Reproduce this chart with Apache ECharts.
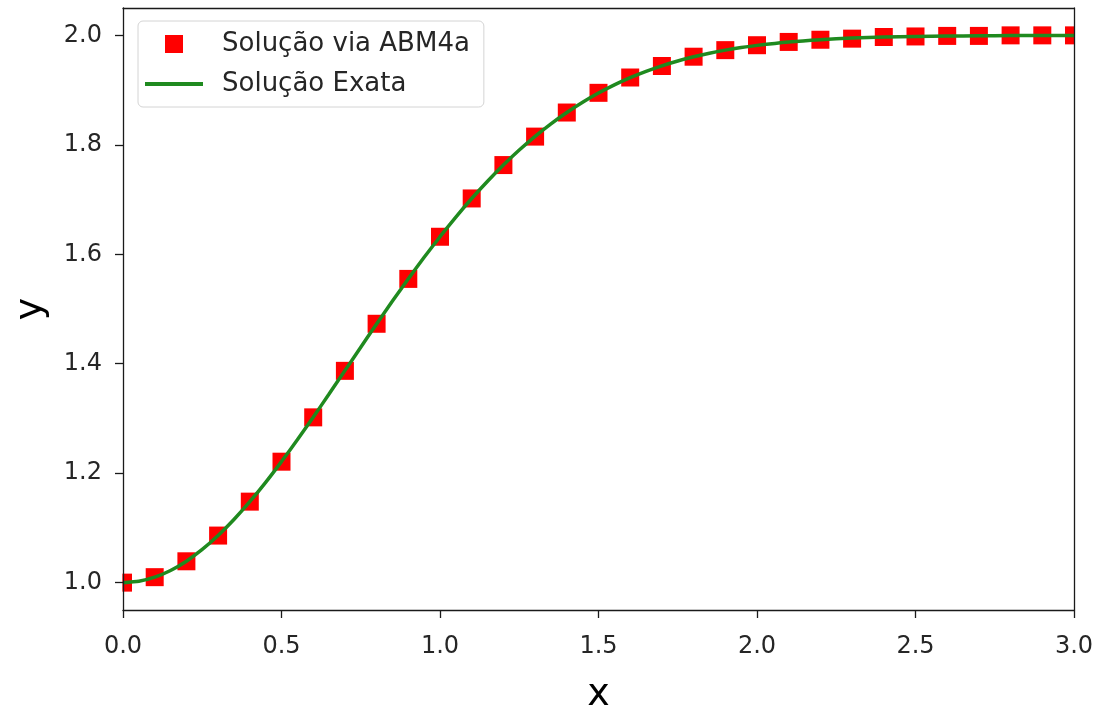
<!DOCTYPE html>
<html>
<head>
<meta charset="utf-8">
<script src="https://cdn.jsdelivr.net/npm/echarts@6/dist/echarts.min.js"></script>
<style>
  html, body { margin: 0; padding: 0; background: #fff; }
  #main { width: 1099px; height: 719px; }
</style>
</head>
<body>
<div id="main"></div>
<script>
// pontos do metodo ABM4a (x = 0.0 ... 3.0, passo 0.1)
var xNum = [0.0, 0.1, 0.2, 0.3, 0.4, 0.5, 0.6, 0.7, 0.8, 0.9, 1.0, 1.1, 1.2, 1.3, 1.4, 1.5,
  1.6, 1.7, 1.8, 1.9, 2.0, 2.1, 2.2, 2.3, 2.4, 2.5, 2.6, 2.7, 2.8, 2.9, 3.0];
var yNum = [1.000, 1.010, 1.039, 1.086, 1.148, 1.221, 1.302, 1.387, 1.473, 1.555, 1.632,
  1.702, 1.763, 1.815, 1.859, 1.895, 1.923, 1.944, 1.961, 1.973, 1.982, 1.988, 1.992,
  1.994, 1.997, 1.998, 1.999, 1.999, 2.000, 2.000, 2.000];

// solucao exata (curva)
var xExata = [0.0, 0.05, 0.1, 0.15, 0.2, 0.25, 0.3, 0.35, 0.4, 0.45, 0.5, 0.55, 0.6, 0.65,
  0.7, 0.75, 0.8, 0.85, 0.9, 0.95, 1.0, 1.05, 1.1, 1.15, 1.2, 1.25, 1.3, 1.35, 1.4, 1.45,
  1.5, 1.55, 1.6, 1.65, 1.7, 1.75, 1.8, 1.85, 1.9, 1.95, 2.0, 2.1, 2.2, 2.3, 2.4, 2.5,
  2.6, 2.7, 2.8, 2.9, 3.0];
var yExata = [1.0000, 1.0025, 1.0100, 1.0222, 1.0392, 1.0606, 1.0861, 1.1153, 1.1479,
  1.1833, 1.2212, 1.2610, 1.3023, 1.3446, 1.3874, 1.4302, 1.4727, 1.5145, 1.5551, 1.5945,
  1.6321, 1.6680, 1.7019, 1.7335, 1.7631, 1.7904, 1.8155, 1.8384, 1.8591, 1.8779, 1.8946,
  1.9095, 1.9227, 1.9343, 1.9444, 1.9532, 1.9608, 1.9674, 1.9730, 1.9777, 1.9817, 1.9879,
  1.9921, 1.9950, 1.9969, 1.9981, 1.9988, 1.9993, 1.9996, 1.9998, 1.9999];

var yTicks = [1.0, 1.2, 1.4, 1.6, 1.8, 2.0];

var chart = echarts.init(document.getElementById('main'));

var numData = []
for (var i = 0; i < xNum.length; i++) numData.push([xNum[i], yNum[i]])
var exataData = []
for (var j = 0; j < xExata.length; j++) exataData.push([xExata[j], yExata[j]])

var corTexto = '#262626'
var corEixo = '#1a1a1a'
var fonte = 'DejaVu Sans'

// eixos de cima / direita so para fechar a moldura
var eixoLinha = { show: true, onZero: false, lineStyle: { color: corEixo, width: 1.3 } }

var option = {
  backgroundColor: '#fff',
  animation: false,
  grid: {
    left: 123,
    right: 25,
    top: 8,
    bottom: 107
  },
  legend: {
    left: 138,
    top: 21,
    orient: 'vertical',
    padding: [10, 14, 10, 7],
    itemWidth: 58,
    itemHeight: 18,
    itemGap: 14,
    borderColor: '#d4d4d4',
    borderWidth: 1,
    borderRadius: 5,
    backgroundColor: 'rgba(255,255,255,0.8)',
    textStyle: {
      fontFamily: fonte,
      fontSize: 26,
      color: corTexto,
      lineHeight: 26,
      padding: [0, 0, 0, 14]
    },
    data: [
      { name: 'Solução via ABM4a', icon: 'path://M0,0h10v10h-10z' },
      { name: 'Solução Exata', icon: 'path://M0,0h58v4h-58z' }
    ]
  },
  xAxis: [
    {
      type: 'value',
      min: 0,
      max: 3,
      interval: 0.5,
      z: 10,
      name: 'x',
      nameLocation: 'middle',
      nameGap: 66,
      nameTextStyle: { fontFamily: fonte, fontSize: 38, color: '#000' },
      splitLine: { show: false },
      axisLine: eixoLinha,
      axisTick: { show: true, length: 8, lineStyle: { color: corEixo, width: 1.3 } },
      axisLabel: {
        fontFamily: fonte,
        fontSize: 24,
        color: corTexto,
        margin: 25,
        formatter: function (v) { return v.toFixed(1) }
      }
    },
    {
      type: 'value',
      position: 'top',
      min: 0,
      max: 3,
      z: 10,
      splitLine: { show: false },
      axisLine: eixoLinha,
      axisTick: { show: false },
      axisLabel: { show: false }
    }
  ],
  yAxis: [
    {
      type: 'value',
      min: 0.95,
      max: 2.05,
      z: 10,
      name: 'y',
      nameLocation: 'middle',
      nameGap: 73,
      nameTextStyle: { fontFamily: fonte, fontSize: 38, color: '#000' },
      splitLine: { show: false },
      axisLine: eixoLinha,
      axisTick: { show: true, length: 8, customValues: yTicks, lineStyle: { color: corEixo, width: 1.3 } },
      axisLabel: {
        fontFamily: fonte,
        fontSize: 24,
        color: corTexto,
        margin: 21,
        customValues: yTicks,
        formatter: function (v) { return v.toFixed(1) }
      }
    },
    {
      type: 'value',
      position: 'right',
      min: 0.95,
      max: 2.05,
      z: 10,
      splitLine: { show: false },
      axisLine: eixoLinha,
      axisTick: { show: false },
      axisLabel: { show: false }
    }
  ],
  // tapa o que passa da area do grafico (marcadores em x=0 e x=3)
  graphic: [
    { type: 'rect', z: 5, shape: { x: 104, y: 0, width: 18.4, height: 612 }, style: { fill: '#fff' } },
    { type: 'rect', z: 5, shape: { x: 1074.6, y: 0, width: 25, height: 719 }, style: { fill: '#fff' } }
  ],
  series: [
    {
      name: 'Solução via ABM4a',
      type: 'scatter',
      symbol: 'rect',
      symbolSize: 18,
      itemStyle: { color: '#ff0000', opacity: 1 },
      data: numData,
      z: 2
    },
    {
      name: 'Solução Exata',
      type: 'line',
      symbol: 'none',
      smooth: 0.2,
      lineStyle: { color: '#1f8a1f', width: 3.5 },
      itemStyle: { color: '#1f8a1f' },
      data: exataData,
      z: 3
    }
  ]
};

chart.setOption(option);
</script>
</body>
</html>
